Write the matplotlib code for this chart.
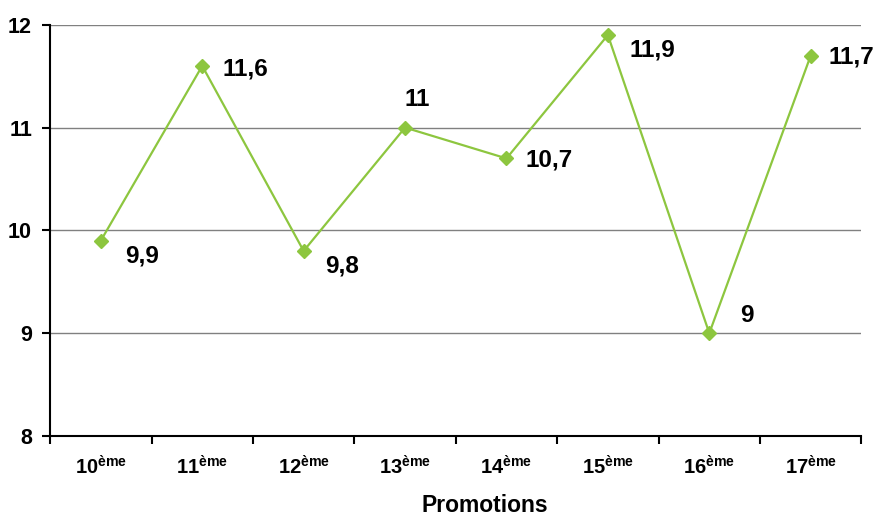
import matplotlib.pyplot as plt
import numpy as np

plt.rcParams['font.family'] = ['Liberation Sans', 'DejaVu Sans']
plt.rcParams['mathtext.default'] = 'regular'

# data
promos = ["10", "11", "12", "13", "14", "15", "16", "17"]
notes = [9.9, 11.6, 9.8, 11.0, 10.7, 11.9, 9.0, 11.7]
labels = ["9,9", "11,6", "9,8", "11", "10,7", "11,9", "9", "11,7"]
# label offsets in points (dx, dy)
offsets = [(30, -11), (31, -2), (28, -11), (9, 20), (31, -1), (32, -11), (27, 13), (29, -1)]

green = '#8DC63F'

fig = plt.figure(figsize=(8.79, 5.16), dpi=100)
ax = fig.add_axes([0.057, 0.155, 0.923, 0.797])

x = np.arange(len(promos))
ax.plot(x, notes, color=green, lw=1.6, marker='D', ms=7, mec=green, mfc=green, zorder=3)

for xi, yi, lab, off in zip(x, notes, labels, offsets):
    ax.annotate(lab, (xi, yi), xytext=off, textcoords='offset points',
                ha='center', va='center', fontsize=17.5, fontweight='bold')

ax.set_xlim(-0.5, len(promos) - 0.5)
ax.set_ylim(8, 12)
ax.set_yticks([8, 9, 10, 11, 12])
ax.set_yticklabels(["8", "9", "10", "11", "12"], fontsize=15.5, fontweight='bold')
ax.yaxis.grid(True, color='#808080', lw=1)
ax.set_axisbelow(True)

# ticks between categories, labels at centres
ax.set_xticks(np.arange(-0.5, len(promos)), minor=False)
ax.set_xticklabels([])
ax.set_xticks(x, minor=True)
ax.set_xticklabels([p + "$^{ème}$" for p in promos], minor=True, fontsize=14.5, fontweight='bold')
ax.tick_params(axis='x', which='minor', length=0, pad=14)
ax.tick_params(axis='x', which='major', length=6, width=1.5, direction='out')
ax.tick_params(axis='y', length=6, width=1.5, direction='out', pad=7)

for s in ['top', 'right']:
    ax.spines[s].set_visible(False)
ax.spines['left'].set_linewidth(1.5)
ax.spines['bottom'].set_linewidth(1.5)

# axis title sits a little right of centre in the original
fig.text(0.552, 0.008, "Promotions", fontsize=16.5, fontweight='bold',
         ha='center', va='baseline')

fig.savefig("out.png", dpi=100)
